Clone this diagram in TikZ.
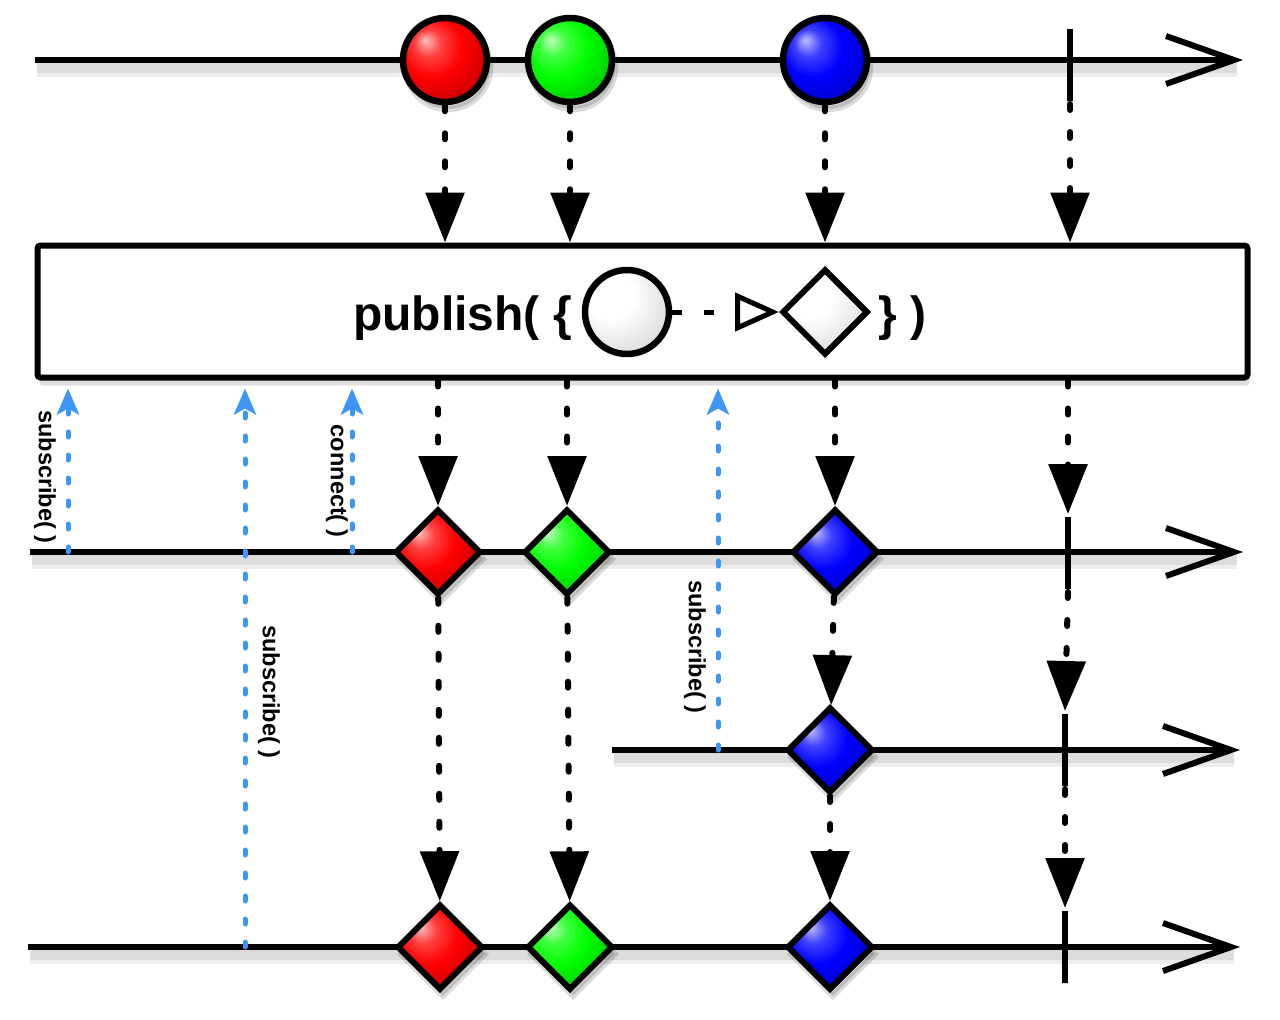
\documentclass[tikz,border=0pt]{standalone}
\usepackage{fontspec}
\setmainfont{Liberation Sans}
\usetikzlibrary{arrows.meta,shapes.geometric,calc}
\definecolor{sblue}{HTML}{3D96F5}
\colorlet{gcol}{red}
\pgfdeclareradialshading[gcol]{glossy}{\pgfqpoint{-12bp}{12bp}}{%
  color(0bp)=(gcol!25!white); color(8bp)=(gcol!75!white); color(18bp)=(gcol); color(26bp)=(gcol!88!black); color(50bp)=(gcol!45!black)}
\pgfdeclareradialshading{pale}{\pgfqpoint{-14bp}{14bp}}{%
  color(0bp)=(white); color(14bp)=(white); color(30bp)=(black!12); color(40bp)=(black!35); color(50bp)=(black!55)}
\begin{document}
\begin{tikzpicture}[x=1pt,y=-1pt,
  tl/.style={line width=6pt, -{Straight Barb[length=68pt,width=48pt]}},
  shad/.style={line width=#1, black, opacity=0.07, transform canvas={shift={(2pt,-8pt)}}},
  drop/.style={preaction={fill=black, draw=black, opacity=0.14, transform canvas={shift={(3pt,-7pt)}}}},
  gloss/.style={shade, shading=glossy, /utils/exec={\colorlet{gcol}{#1}}},
  ball/.style={circle, draw, line width=6.5pt, minimum size=84pt, inner sep=0pt, drop, gloss=#1},
  gem/.style={diamond, aspect=1, draw, line width=6pt, minimum size=86pt, inner sep=0pt, drop, gloss=#1},
  paleball/.style={circle, draw, line width=6.5pt, minimum size=84pt, inner sep=0pt, shade, shading=pale},
  palegem/.style={diamond, aspect=1, draw, line width=6pt, minimum size=86pt, inner sep=0pt, shade, shading=pale},
  tickmark/.style={draw, line width=6pt, minimum width=0pt, minimum height=72pt, inner sep=0pt},
  emit/.style={line width=6pt, line cap=round, dash pattern=on 6pt off 22pt, -{Triangle[length=50pt,width=38pt]}},
  sub/.style={sblue, line width=5pt, line cap=round, dash pattern=on 5pt off 18pt, shorten >=8pt, -{Stealth[length=26pt,width=22pt,inset=6pt]}},
  lbl/.style={font=\bfseries\fontsize{23.5}{24}\selectfont, rotate=-90, inner sep=0pt},
  big/.style={inner sep=0pt, font=\bfseries\fontsize{48}{48}\selectfont}
]
\useasboundingbox (0,0) rectangle (1280,1020);
% timeline end points
\coordinate (a0) at (35,60);   \coordinate (e0) at (1243,60);
\coordinate (a1) at (30,552);  \coordinate (e1) at (1243,552);
\coordinate (a2) at (612,750); \coordinate (e2) at (1240,750);
\coordinate (a3) at (28,947);  \coordinate (e3) at (1240,947);
% shadows of timelines
\foreach \i in {0,1,2,3} {
  \draw[shad=18pt] (a\i) -- ($(e\i)+(-8,0)$);
  \draw[shad=10pt] (a\i) -- ($(e\i)+(-8,0)$);}
% timelines
\foreach \i in {0,1,2,3} {\draw[tl] (a\i) -- (e\i);}
% box
\node[draw, line width=6pt, rounded corners=3pt, minimum width=1210pt, minimum height=132pt, inner sep=0pt, fill=white,
  preaction={fill=black, opacity=0.12, transform canvas={shift={(2pt,-8pt)}}}] (box) at (642.5,311.5) {};
\node[big, anchor=base east] (pubL) at (572,330) {publish( \{};
\node[paleball] (c0) at (627,312) {};
\node[palegem] (d0) at (825,312) {};
\draw[line width=5pt, dash pattern=on 10pt off 22pt, -{Triangle[open,length=44pt,width=38pt]}] (c0) -- (d0);
\node[big, anchor=base west] (pubR) at (878,330) {\} )};
% top row
\node[ball=red] (r0) at (445,60) {};
\node[ball=green] (g0) at (570,60) {};
\node[ball=blue] (b0) at (825,60) {};
\node[tickmark] (t0) at (1070,65) {};
% row 1
\node[gem=red] (r1) at (438,552) {};
\node[gem=green] (g1) at (567,552) {};
\node[gem=blue] (b1) at (835,552) {};
\node[tickmark] (t1) at (1068,553) {};
% row 2
\node[gem=blue] (b2) at (830,750) {};
\node[tickmark] (t2) at (1065,750) {};
% row 3
\node[gem=red] (r3) at (440,947) {};
\node[gem=green] (g3) at (570,947) {};
\node[gem=blue] (b3) at (830,947) {};
\node[tickmark] (t3) at (1065,947) {};
% emissions
\draw[emit] (r0) -- (r0 |- box.north);
\draw[emit] (g0) -- (g0 |- box.north);
\draw[emit] (b0) -- (b0 |- box.north);
\draw[emit] (t0.south) -- (t0.south |- box.north);
\draw[emit] (r1 |- box.south) -- (r1);
\draw[emit] (g1 |- box.south) -- (g1);
\draw[emit] (b1 |- box.south) -- (b1);
\draw[emit] (t1 |- box.south) -- (t1.north);
\draw[emit] (r1) -- (r3);
\draw[emit] (g1) -- (g3);
\draw[emit] (b1) -- (b2);
\draw[emit] (b2) -- (b3);
\draw[emit] (t1.south) -- (t2.north);
\draw[emit] (t2.south) -- (t3.north);
% subscriptions
\coordinate (s1) at (68,552);
\coordinate (s2) at (245,947);
\coordinate (s3) at (352,552);
\coordinate (s4) at (718,750);
\draw[sub] (s1) -- (s1 |- box.south);
\draw[sub] (s2) -- (s2 |- box.south);
\draw[sub] (s3) -- (s3 |- box.south);
\draw[sub] (s4) -- (s4 |- box.south);
\node[lbl] (l1) at (45,477) {subscribe( )};
\node[lbl] (l2) at (337,481) {connect( )};
\node[lbl] (l3) at (269,692) {subscribe( )};
\node[lbl] (l4) at (695,647) {subscribe( )};
\end{tikzpicture}
\end{document}
